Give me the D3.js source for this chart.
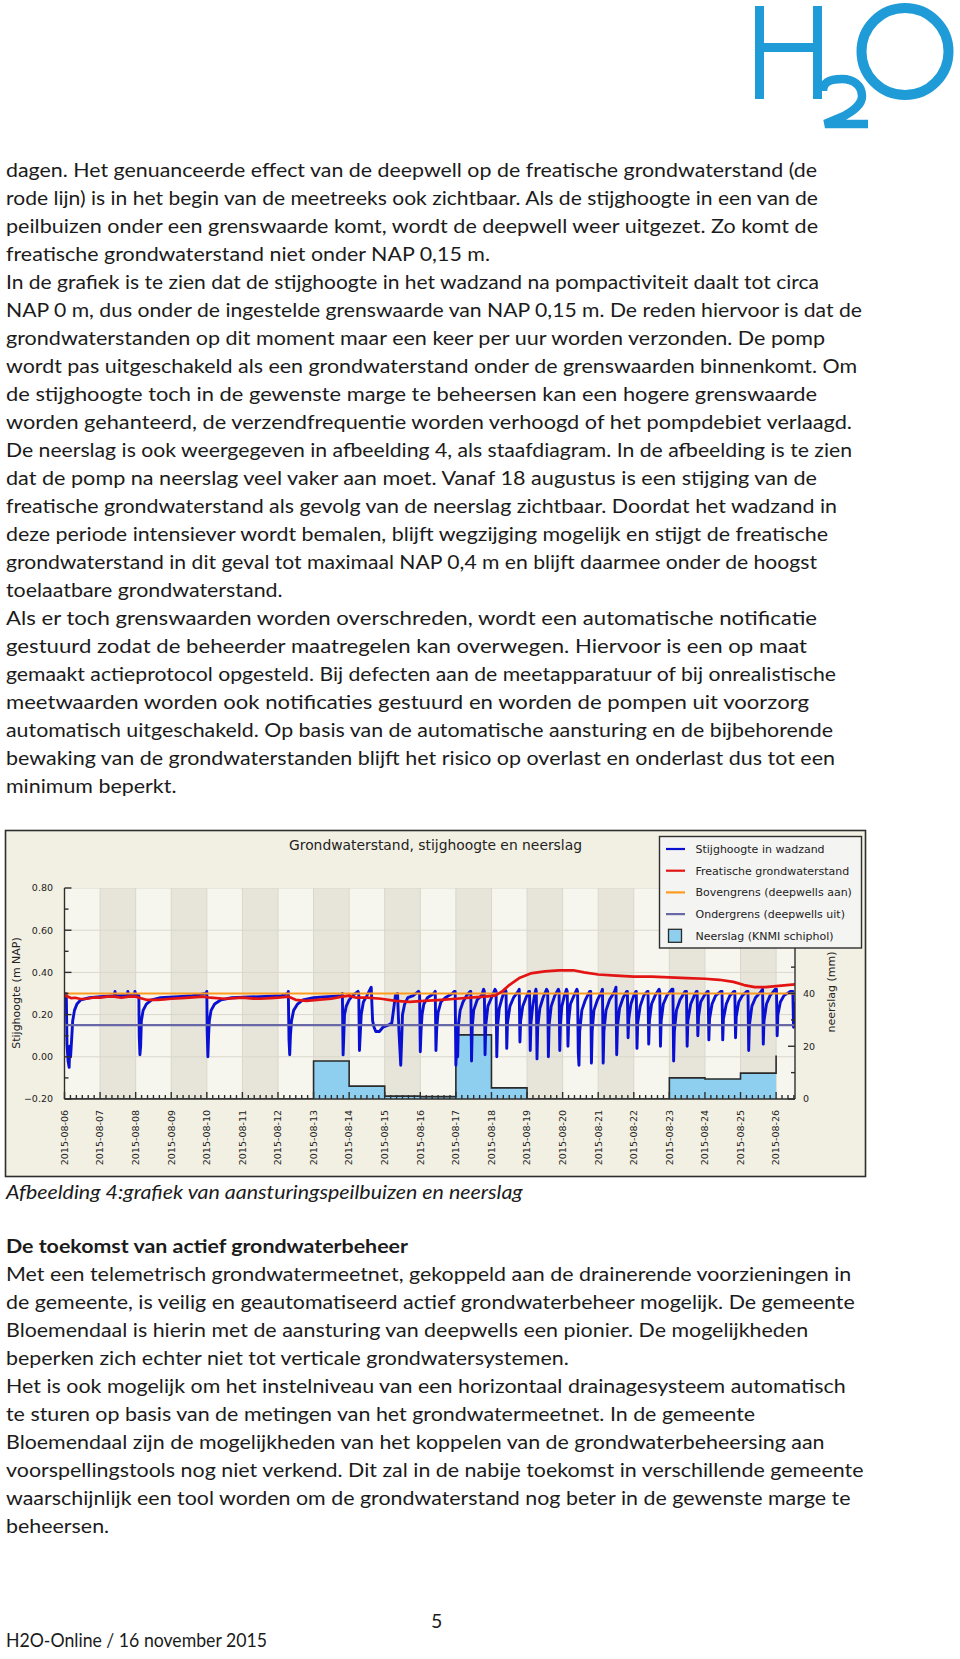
<!DOCTYPE html>
<html><head><meta charset="utf-8">
<script src="https://cdn.jsdelivr.net/npm/d3@7"></script>
<style>html,body{margin:0;padding:0;background:#fff}svg{display:block}</style>
</head><body>
<svg id="page" width="960" height="1659"></svg>
<script>
// ---------------- DATA ----------------
const dayLabels = ["2015-08-06","2015-08-07","2015-08-08","2015-08-09","2015-08-10","2015-08-11","2015-08-12","2015-08-13","2015-08-14","2015-08-15","2015-08-16","2015-08-17","2015-08-18","2015-08-19","2015-08-20","2015-08-21","2015-08-22","2015-08-23","2015-08-24","2015-08-25","2015-08-26"];
const leftTicks = [-0.2, 0, 0.2, 0.4, 0.6, 0.8];
const rightTicks = [0, 20, 40, 60, 80];
const rightTickLabels = [0, 20, 40]; // 60 and 80 are hidden behind the legend
// neerslag (mm) per day, 2015-08-06 .. 2015-08-26
const neerslag = [0,0,0,0,0,0,0,14.4,4.9,1.1,0.9,24.3,4.2,0,0,0,0,8.0,7.6,9.8,16.5];
const bovengrens = 0.30;
const ondergrens = 0.15;
// stijghoogte in wadzand: [days since 2015-08-06 00:00, m NAP]
const stijghoogte = [
[0.00,0.30],[0.05,0.30],[0.07,0.06],[0.10,-0.02],[0.13,-0.05],[0.15,0.05],[0.17,0.00],[0.20,0.08],[0.23,0.17],[0.28,0.22],[0.35,0.25],[0.46,0.27],[0.70,0.28],[1.00,0.285],[1.40,0.29],[1.42,0.31],[1.44,0.29],[1.77,0.29],[1.78,0.31],[1.80,0.29],[1.97,0.295],[1.98,0.31],[2.00,0.295],[2.07,0.29],
[2.09,0.29],[2.10,0.10],[2.12,0.01],[2.14,0.05],[2.16,0.17],[2.21,0.22],[2.30,0.25],[2.45,0.27],[2.70,0.28],[3.20,0.285],[3.60,0.29],[3.98,0.30],
[4.00,0.31],[4.01,0.12],[4.03,0.00],[4.05,0.10],[4.07,0.17],[4.12,0.22],[4.22,0.25],[4.40,0.27],[4.70,0.28],[5.50,0.285],[6.10,0.29],[6.28,0.30],
[6.29,0.31],[6.31,0.08],[6.33,0.01],[6.35,0.10],[6.38,0.17],[6.44,0.22],[6.55,0.25],[6.70,0.27],[7.00,0.28],[7.40,0.285],[7.80,0.29],
[7.81,0.30],[7.83,0.009],[7.85,0.10],[7.87,0.20],[7.92,0.24],[8.00,0.27],[8.10,0.29],[8.25,0.31],
[8.27,0.30],[8.29,0.03],[8.31,0.10],[8.34,0.20],[8.40,0.26],[8.50,0.29],[8.62,0.33],
[8.66,0.17],[8.70,0.14],[8.75,0.12],[8.85,0.12],[8.95,0.14],[9.10,0.15],[9.20,0.16],[9.30,0.29],[9.36,0.30],
[9.40,0.12],[9.45,-0.04],[9.47,0.05],[9.50,0.20],[9.56,0.25],[9.65,0.28],[9.80,0.29],[9.95,0.31],
[9.98,0.30],[10.00,0.024],[10.02,0.12],[10.05,0.20],[10.10,0.25],[10.20,0.28],[10.38,0.30],
[10.42,0.31],[10.44,0.03],[10.46,0.13],[10.50,0.21],[10.58,0.26],[10.70,0.28],[10.90,0.30],[10.96,0.31],
[10.98,0.31],[11.00,-0.04],[11.02,0.06],[11.05,0.00],[11.07,0.15],[11.12,0.22],[11.20,0.26],[11.30,0.29],[11.40,0.31],
[11.42,0.31],[11.44,-0.02],[11.46,0.14],[11.50,0.22],[11.60,0.27],[11.72,0.29],[11.78,0.32],
[11.80,0.31],[11.82,0.01],[11.84,0.15],[11.90,0.24],[12.00,0.28],[12.10,0.32],
[12.13,0.31],[12.15,0.00],[12.17,0.14],[12.22,0.23],[12.30,0.28],[12.38,0.32],
[12.41,0.31],[12.43,0.04],[12.45,0.16],[12.52,0.24],[12.62,0.28],[12.75,0.31],
[12.78,0.32],[12.80,0.07],[12.82,0.17],[12.88,0.24],[12.97,0.28],[13.05,0.31],
[13.07,0.31],[13.09,0.03],[13.11,0.16],[13.16,0.24],[13.22,0.30],[13.25,0.32],
[13.26,0.31],[13.28,-0.01],[13.30,0.14],[13.36,0.23],[13.45,0.28],[13.55,0.32],
[13.58,0.31],[13.60,0.00],[13.62,0.15],[13.68,0.24],[13.78,0.29],[13.88,0.32],
[13.90,0.31],[13.92,0.03],[13.94,0.16],[13.98,0.24],[14.05,0.29],[14.11,0.32],
[14.13,0.31],[14.15,0.05],[14.17,0.17],[14.22,0.25],[14.32,0.29],[14.40,0.32],
[14.42,0.31],[14.44,0.02],[14.46,-0.04],[14.48,0.12],[14.54,0.22],[14.64,0.27],[14.76,0.31],
[14.79,0.31],[14.81,-0.03],[14.83,0.12],[14.88,0.22],[14.98,0.27],[15.10,0.31],
[15.12,0.32],[15.14,-0.03],[15.16,0.12],[15.22,0.22],[15.32,0.27],[15.46,0.31],
[15.50,0.33],[15.52,0.01],[15.54,0.14],[15.60,0.23],[15.70,0.28],[15.80,0.31],
[15.82,0.31],[15.84,0.09],[15.86,0.18],[15.92,0.25],[16.00,0.29],[16.06,0.31],
[16.07,0.31],[16.09,0.04],[16.11,0.16],[16.18,0.24],[16.28,0.29],[16.38,0.31],
[16.40,0.31],[16.42,0.06],[16.44,0.17],[16.50,0.25],[16.60,0.29],[16.71,0.32],
[16.73,0.31],[16.75,0.05],[16.77,0.17],[16.83,0.25],[16.93,0.29],[17.07,0.32],
[17.10,0.32],[17.12,-0.02],[17.14,0.12],[17.20,0.22],[17.30,0.27],[17.44,0.31],
[17.48,0.31],[17.50,0.05],[17.52,0.17],[17.60,0.25],[17.70,0.29],[17.76,0.31],
[17.78,0.31],[17.80,0.10],[17.82,0.19],[17.88,0.26],[17.98,0.29],[18.07,0.31],
[18.09,0.31],[18.11,0.08],[18.13,0.18],[18.20,0.25],[18.30,0.29],[18.45,0.31],
[18.48,0.31],[18.50,0.08],[18.52,0.18],[18.60,0.25],[18.70,0.29],[18.82,0.31],
[18.84,0.31],[18.86,0.09],[18.88,0.19],[18.95,0.26],[19.05,0.29],[19.18,0.31],
[19.21,0.31],[19.23,0.03],[19.25,0.15],[19.32,0.24],[19.42,0.28],[19.58,0.31],
[19.62,0.32],[19.64,0.06],[19.66,0.17],[19.73,0.25],[19.83,0.29],[19.98,0.32],
[20.01,0.32],[20.03,0.10],[20.05,0.20],[20.12,0.26],[20.22,0.29],[20.40,0.31],
[20.47,0.31],[20.49,0.14],[20.51,0.22],[20.53,0.26]
];
// freatische grondwaterstand: [days since 2015-08-06 00:00, m NAP]
const freatisch = [
[0.00,0.29],[0.10,0.285],[0.20,0.278],[0.30,0.28],[0.45,0.274],[0.60,0.275],[0.80,0.28],[1.00,0.28],[1.20,0.285],[1.40,0.285],[1.60,0.28],[1.80,0.285],[2.00,0.285],[2.10,0.28],[2.30,0.27],[2.60,0.27],[2.80,0.272],[3.00,0.275],[3.30,0.278],[3.50,0.28],[3.90,0.285],[4.10,0.28],[4.50,0.275],[4.80,0.278],[5.00,0.28],[5.30,0.276],[5.50,0.275],[5.80,0.278],[6.00,0.28],[6.30,0.285],[6.50,0.27],[6.80,0.265],[7.10,0.27],[7.50,0.275],[7.80,0.285],[8.00,0.29],[8.20,0.28],[8.50,0.28],[8.90,0.275],[9.30,0.265],[9.70,0.26],[10.10,0.265],[10.60,0.27],[11.00,0.275],[11.40,0.28],[11.80,0.285],[12.10,0.29],[12.30,0.31],[12.50,0.34],[12.80,0.375],[13.10,0.395],[13.50,0.405],[13.90,0.41],[14.30,0.41],[14.60,0.40],[15.00,0.39],[15.50,0.385],[16.00,0.38],[16.50,0.38],[17.00,0.376],[17.50,0.373],[18.00,0.37],[18.40,0.365],[18.80,0.355],[19.10,0.34],[19.40,0.33],[19.70,0.33],[20.00,0.335],[20.30,0.34],[20.53,0.343]
];
const legendItems = ["Stijghoogte in wadzand","Freatische grondwaterstand","Bovengrens (deepwells aan)","Ondergrens (deepwells uit)","Neerslag (KNMI schiphol)"];

// ---------------- TEXT ----------------
const para1 = [
"dagen. Het genuanceerde effect van de deepwell op de freatische grondwaterstand (de",
"rode lijn) is in het begin van de meetreeks ook zichtbaar. Als de stijghoogte in een van de",
"peilbuizen onder een grenswaarde komt, wordt de deepwell weer uitgezet. Zo komt de",
"freatische grondwaterstand niet onder NAP 0,15 m.",
"In de grafiek is te zien dat de stijghoogte in het wadzand na pompactiviteit daalt tot circa",
"NAP 0 m, dus onder de ingestelde grenswaarde van NAP 0,15 m. De reden hiervoor is dat de",
"grondwaterstanden op dit moment maar een keer per uur worden verzonden. De pomp",
"wordt pas uitgeschakeld als een grondwaterstand onder de grenswaarden binnenkomt. Om",
"de stijghoogte toch in de gewenste marge te beheersen kan een hogere grenswaarde",
"worden gehanteerd, de verzendfrequentie worden verhoogd of het pompdebiet verlaagd.",
"De neerslag is ook weergegeven in afbeelding 4, als staafdiagram. In de afbeelding is te zien",
"dat de pomp na neerslag veel vaker aan moet. Vanaf 18 augustus is een stijging van de",
"freatische grondwaterstand als gevolg van de neerslag zichtbaar. Doordat het wadzand in",
"deze periode intensiever wordt bemalen, blijft wegzijging mogelijk en stijgt de freatische",
"grondwaterstand in dit geval tot maximaal NAP 0,4 m en blijft daarmee onder de hoogst",
"toelaatbare grondwaterstand.",
"Als er toch grenswaarden worden overschreden, wordt een automatische notificatie",
"gestuurd zodat de beheerder maatregelen kan overwegen. Hiervoor is een op maat",
"gemaakt actieprotocol opgesteld. Bij defecten aan de meetapparatuur of bij onrealistische",
"meetwaarden worden ook notificaties gestuurd en worden de pompen uit voorzorg",
"automatisch uitgeschakeld. Op basis van de automatische aansturing en de bijbehorende",
"bewaking van de grondwaterstanden blijft het risico op overlast en onderlast dus tot een",
"minimum beperkt."];
const para1Right = [817,818,818,null,819,862,825,857,817,852,852,817,837,828,817,null,817,807,836,809,833,835,null];
const para2 = [
"Met een telemetrisch grondwatermeetnet, gekoppeld aan de drainerende voorzieningen in",
"de gemeente, is veilig en geautomatiseerd actief grondwaterbeheer mogelijk. De gemeente",
"Bloemendaal is hierin met de aansturing van deepwells een pionier. De mogelijkheden",
"beperken zich echter niet tot verticale grondwatersystemen.",
"Het is ook mogelijk om het instelniveau van een horizontaal drainagesysteem automatisch",
"te sturen op basis van de metingen van het grondwatermeetnet. In de gemeente",
"Bloemendaal zijn de mogelijkheden van het koppelen van de grondwaterbeheersing aan",
"voorspellingstools nog niet verkend. Dit zal in de nabije toekomst in verschillende gemeente",
"waarschijnlijk een tool worden om de grondwaterstand nog beter in de gewenste marge te",
"beheersen."];

const svg = d3.select("#page");
const bodyFont = "Lato, 'Open Sans', sans-serif";
const textColor = "#1b1b1b";
const fs = 19.5;

// ---- logo ----
const logo = svg.append("g").attr("fill","none").attr("stroke","#1f9bd7");
logo.append("rect").attr("x",755).attr("y",6).attr("width",9).attr("height",93).attr("fill","#1f9bd7").attr("stroke","none");
logo.append("rect").attr("x",813).attr("y",6).attr("width",9).attr("height",93).attr("fill","#1f9bd7").attr("stroke","none");
logo.append("rect").attr("x",755).attr("y",43).attr("width",67).attr("height",9).attr("fill","#1f9bd7").attr("stroke","none");
logo.append("path").attr("stroke-width",8.5)
  .attr("d","M823,91 C823,81 832,79 842,79 C854,79 862,86 862,96 C862,105 853,111 844,116 L825,124 L868,124");
logo.append("circle").attr("cx",905).attr("cy",51.5).attr("r",43.5).attr("stroke-width",10);

// ---- paragraphs ----
function textLines(lines, rights, x, y0, pitch, opts) {
  const nodes = [];
  lines.forEach((s,i)=>{
    const t = svg.append("text").attr("x",x).attr("y",y0+i*pitch)
      .attr("font-family",bodyFont).attr("font-size",opts.size||fs)
      .attr("font-weight",opts.weight||"normal").attr("font-style",opts.style||"normal")
      .attr("fill",textColor).text(s);
    nodes.push({t, r: rights ? rights[i] : null});
  });
  return nodes;
}
const all1 = textLines(para1, para1Right, 6, 177, 28, {});
const ratios = all1.filter(d=>d.r!=null).map(d=>(d.r-6)/d.t.node().getComputedTextLength());
const scale = d3.median(ratios);
function fit(nodes, sc){
  nodes.forEach(d=>{
    const w = d.t.node().getComputedTextLength();
    const target = d.r!=null ? d.r-6 : w*sc;
    d.t.attr("textLength",target).attr("lengthAdjust","spacingAndGlyphs");
  });
}
fit(all1, scale);
const cap = textLines(["Afbeelding 4:grafiek van aansturingspeilbuizen en neerslag"], null, 6, 1199, 28, {style:"italic"});
fit(cap, scale);
const head = textLines(["De toekomst van actief grondwaterbeheer"], [408], 6, 1253, 28, {weight:"bold"});
fit(head, scale);
const all2 = textLines(para2, null, 6, 1281, 27.95, {});
fit(all2, scale);
svg.append("text").attr("x",431).attr("y",1628).attr("font-family",bodyFont).attr("font-size",fs).attr("fill",textColor).text("5");
const foot = textLines(["H2O-Online / 16 november 2015"], [267], 6, 1647, 28, {});
fit(foot, scale);

// ---------------- CHART ----------------
const cf = "'DejaVu Sans', Verdana, sans-serif";
const t0 = Date.UTC(2015,7,6);
const DAY = 864e5;
const toDate = t => new Date(t0 + t*DAY);
const parseDay = d3.utcParse("%Y-%m-%d");
const days = dayLabels.map(parseDay);
const x = d3.scaleUtc().domain([days[0], new Date(Date.UTC(2015,7,26,12,45))]).range([64.5, 795]);
const yL = d3.scaleLinear().domain([-0.2, 0.8]).range([1099, 888]);
const yR = d3.scaleLinear().domain([0, 80]).range([1099, 888]);
const [px0, px1] = x.range(), [py1, py0] = yL.range();

const ch = svg.append("g");
ch.append("rect").attr("x",5.5).attr("y",830.5).attr("width",860).attr("height",346)
  .attr("fill","#f2f0e3").attr("stroke","#2e2e2e").attr("stroke-width",1.6);
ch.append("text").attr("x",289).attr("y",850)
  .attr("font-family",cf).attr("font-size",13.2).attr("fill","#222")
  .attr("textLength",293).attr("lengthAdjust","spacingAndGlyphs")
  .text("Grondwaterstand, stijghoogte en neerslag");
ch.append("clipPath").attr("id","plotclip").append("rect")
  .attr("x",px0).attr("y",py0).attr("width",px1-px0).attr("height",py1-py0);
ch.append("rect").attr("x",px0).attr("y",py0).attr("width",px1-px0).attr("height",py1-py0).attr("fill","#f7f6ee");
const plot = ch.append("g").attr("clip-path","url(#plotclip)");
plot.selectAll(".band").data(days.filter((d,i)=>i%2===1)).join("rect")
  .attr("x",d=>x(d)).attr("width",d=>x(d3.utcDay.offset(d,1))-x(d))
  .attr("y",py0).attr("height",py1-py0).attr("fill","#e7e5da");
plot.selectAll(".vg").data(days).join("line")
  .attr("x1",d=>x(d)).attr("x2",d=>x(d)).attr("y1",py0).attr("y2",py1)
  .attr("stroke","#d9d7cb").attr("stroke-width",1);
plot.selectAll(".hg").data(leftTicks).join("line")
  .attr("x1",px0).attr("x2",px1).attr("y1",d=>yL(d)).attr("y2",d=>yL(d))
  .attr("stroke","#d9d7cb").attr("stroke-width",1);
const rain = neerslag.map((v,i)=>({d:days[i], v}));
plot.append("path").datum(rain)
  .attr("d", d3.area().curve(d3.curveStepAfter).x(d=>x(d.d)).y0(yR(0)).y1(d=>yR(d.v)))
  .attr("fill","#8ecff0");
plot.append("path").datum(rain)
  .attr("d", d3.line().curve(d3.curveStepAfter).x(d=>x(d.d)).y(d=>yR(d.v)))
  .attr("fill","none").attr("stroke","#2a2a2a").attr("stroke-width",1.6);
const lineGen = d3.line().x(d=>x(toDate(d[0]))).y(d=>yL(d[1]));
plot.append("path").datum(stijghoogte).attr("d",lineGen)
  .attr("fill","none").attr("stroke","#0a10d2").attr("stroke-width",2.9).attr("stroke-linejoin","round");
plot.append("line").attr("x1",px0).attr("x2",px1).attr("y1",yL(bovengrens)).attr("y2",yL(bovengrens))
  .attr("stroke","#ff9b1e").attr("stroke-width",2.2);
plot.append("line").attr("x1",px0).attr("x2",px1).attr("y1",yL(ondergrens)).attr("y2",yL(ondergrens))
  .attr("stroke","#6868a8").attr("stroke-width",2.2);
plot.append("path").datum(freatisch).attr("d",lineGen)
  .attr("fill","none").attr("stroke","#e31414").attr("stroke-width",2.7).attr("stroke-linejoin","round");

const ax = ch.append("g").attr("stroke","#2e2e2e").attr("stroke-width",1.4);
ax.append("line").attr("x1",px0).attr("x2",px0).attr("y1",py0).attr("y2",py1);
ax.append("line").attr("x1",px1).attr("x2",px1).attr("y1",py0).attr("y2",py1);
ax.append("line").attr("x1",px0).attr("x2",px1).attr("y1",py1).attr("y2",py1);
ax.selectAll(".lt").data(leftTicks).join("line")
  .attr("x1",px0).attr("x2",px0+7).attr("y1",d=>yL(d)).attr("y2",d=>yL(d));
ax.selectAll(".lmt").data(leftTicks.slice(0,-1).map(d=>d+0.1)).join("line")
  .attr("x1",px0).attr("x2",px0+4).attr("y1",d=>yL(d)).attr("y2",d=>yL(d));
ax.selectAll(".rt").data(rightTicks).join("line")
  .attr("x1",px1).attr("x2",px1-7).attr("y1",d=>yR(d)).attr("y2",d=>yR(d));
ax.selectAll(".rmt").data(rightTicks.slice(0,-1).map(d=>d+10)).join("line")
  .attr("x1",px1).attr("x2",px1-4).attr("y1",d=>yR(d)).attr("y2",d=>yR(d));
ax.selectAll(".bt").data(days).join("line")
  .attr("x1",d=>x(d)).attr("x2",d=>x(d)).attr("y1",py1).attr("y2",py1-7);
ax.selectAll(".bmt").data(d3.utcHour.every(4).range(days[0], x.domain()[1]).filter(d=>d.getUTCHours()!==0)).join("line")
  .attr("x1",d=>x(d)).attr("x2",d=>x(d)).attr("y1",py1).attr("y2",py1-4);
const lbl = ch.append("g").attr("font-family",cf).attr("fill","#222");
lbl.selectAll(".ll").data(leftTicks).join("text")
  .attr("x",53).attr("y",d=>yL(d)).attr("dy","0.36em").attr("text-anchor","end")
  .attr("font-size",9.5).text(d3.format(".2f"));
lbl.selectAll(".rl").data(rightTickLabels).join("text")
  .attr("x",803).attr("y",d=>yR(d)).attr("dy","0.36em")
  .attr("font-size",9.5).text(d=>d);
lbl.selectAll(".bl").data(days).join("text")
  .attr("transform",d=>`translate(${x(d)},1110) rotate(-90)`).attr("dy","0.35em")
  .attr("text-anchor","end").attr("font-size",9.5).text((d,i)=>dayLabels[i]);
lbl.append("text").attr("transform","translate(19.5,993) rotate(-90)").attr("text-anchor","middle")
  .attr("font-size",11).text("Stijghoogte (m NAP)");
lbl.append("text").attr("transform","translate(835,992) rotate(-90)").attr("text-anchor","middle")
  .attr("font-size",11).text("neerslag (mm)");

const lg = ch.append("g");
lg.append("rect").attr("x",659.5).attr("y",836.5).attr("width",202).attr("height",111.5)
  .attr("fill","#f4f4f2").attr("stroke","#2e2e2e").attr("stroke-width",1.4);
const legColors = ["#0a10d2","#e31414","#ff9b1e","#6868a8",null];
legendItems.forEach((s,i)=>{
  const cy = 849 + i*21.7;
  if (legColors[i]) {
    lg.append("line").attr("x1",666).attr("x2",685).attr("y1",cy).attr("y2",cy)
      .attr("stroke",legColors[i]).attr("stroke-width",2.2);
  } else {
    lg.append("rect").attr("x",668.5).attr("y",cy-6.5).attr("width",13).attr("height",13)
      .attr("fill","#8ecff0").attr("stroke","#2a2a2a").attr("stroke-width",1.3);
  }
  lg.append("text").attr("x",695.5).attr("y",cy).attr("dy","0.36em")
    .attr("font-family",cf).attr("font-size",11).attr("fill","#222").text(s);
});
</script>
</body></html>
